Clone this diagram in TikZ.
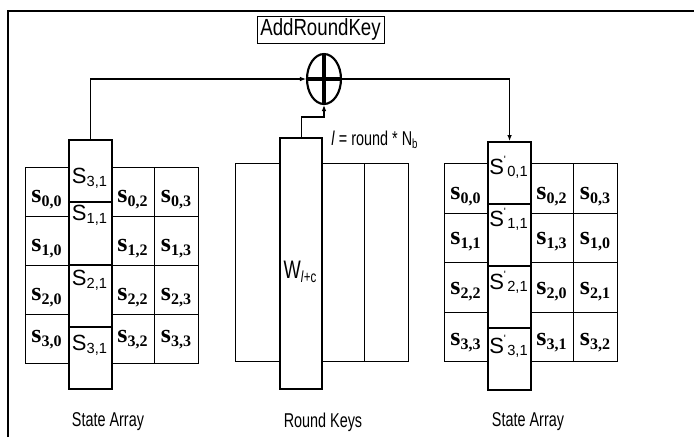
\documentclass[tikz,border=0pt]{standalone}
\usepackage{fontspec}
\usetikzlibrary{arrows.meta,shapes.geometric}
\newfontfamily\sansN[FakeStretch=0.72]{Liberation Sans}
\newfontfamily\sansM[FakeStretch=0.8]{Liberation Sans}
\newfontfamily\sansR{Liberation Sans}
\newfontfamily\serifB{Liberation Serif}
\newcommand\fsz[1]{\fontsize{#1}{#1}\selectfont}
\newcommand\sij[2]{{\serifB\bfseries\fsz{19.5}s\raisebox{-3pt}{\fsz{12}#1,#2}}}
\newcommand\Sij[1]{{\sansR\fsz{16.5}S\raisebox{-2pt}{\fsz{11}#1}}}
\newcommand\Spij[1]{{\sansR\fsz{16.5}S\rlap{\raisebox{8.5pt}{\fsz{8}'}}\hspace{2.5pt}\raisebox{-1.5pt}{\fsz{11}#1}}}
\begin{document}
\begin{tikzpicture}[x=0.75pt,y=-0.75pt,
  gridcell/.style={draw, line width=0.8pt, inner sep=0pt, anchor=north west},
  hicell/.style={draw, fill=white, line width=1.6pt, inner sep=0pt, anchor=north west},
  lbl/.style={inner sep=0pt},
  biglbl/.style={inner sep=0pt, font=\sansN\fsz{15}},
  arr/.style={line width=0.8pt, -{Latex[length=4.5pt,width=3.5pt]}}]
\useasboundingbox (0,0) rectangle (694,437);
\draw[line width=2pt] (8,437) -- (8,11) -- (694,11);

% ---- left state array
\foreach \c/\x/\w in {0/25/43,2/111/43,3/154/44}{
  \foreach \r in {0,...,3}{
    \node[gridcell, minimum width=\w*0.75pt, minimum height=49*0.75pt] (L\r\c) at (\x,{167+49*\r}) {};
  }
}
\foreach \r in {0,...,3}{
  \node[hicell, minimum width=43*0.75pt, minimum height=62.25*0.75pt] (LH\r) at (68,{139+62.25*\r}) {};
}
\foreach \r/\y in {0/200,1/249,2/298,3/340}{
  \node[lbl] (LT\r0) at (46.5,\y) {\sij{\r}{0}};
  \node[lbl] (LT\r2) at (132.5,\y) {\sij{\r}{2}};
  \node[lbl] (LT\r3) at (176,\y) {\sij{\r}{3}};
}
\foreach \r/\y/\s in {0/178/{3,1},1/215/{1,1},2/280/{2,1},3/345/{3,1}}{
  \node[lbl] (LS\r) at (89.5,\y) {\Sij{\s}};
}

% ---- round keys
\foreach \c/\x/\w in {0/235/44,1/279/42,2/321/43,3/364/44}{
  \node[gridcell, minimum width=\w*0.75pt, minimum height=198*0.75pt] (K\c) at (\x,163) {};
}
\node[hicell, minimum width=42*0.75pt, minimum height=251*0.75pt] (W) at (279,137) {};
\node[lbl] (WT) at (300,272) {{\sansN\fsz{19}W}\raisebox{-3.5pt}{\sansN\fsz{12}\textit{l}+c}};
\node[lbl, font=\sansN\fsz{15}] (lr) at (374.5,140) {\textit{l} = round * N\raisebox{-2.5pt}{\fsz{10}b}};

% ---- right state array
\foreach \c/\x/\w in {0/444/43,2/530/43,3/573/44}{
  \foreach \r in {0,...,3}{
    \node[gridcell, minimum width=\w*0.75pt, minimum height=49.5*0.75pt] (R\r\c) at (\x,{163+49.5*\r}) {};
  }
}
\foreach \r in {0,...,3}{
  \node[hicell, minimum width=43*0.75pt, minimum height=62*0.75pt] (RH\r) at (487,{141+62*\r}) {};
}
\foreach \r/\y/\a/\b/\d in {0/197/{0}{0}/{0}{2}/{0}{3},1/242/{1}{1}/{1}{3}/{1}{0},2/292/{2}{2}/{2}{0}/{2}{1},3/343/{3}{3}/{3}{1}/{3}{2}}{
  \node[lbl] (RT\r0) at (465.5,\y) {\expandafter\sij\a};
  \node[lbl] (RT\r2) at (551.5,\y) {\expandafter\sij\b};
  \node[lbl] (RT\r3) at (595,\y) {\expandafter\sij\d};
}
\foreach \r/\y/\s in {0/167/{0,1},1/219/{1,1},2/282/{2,1},3/346/{3,1}}{
  \node[lbl] (RS\r) at (508.5,\y) {\Spij{\s}};
}

% ---- AddRoundKey and xor
\node[draw, line width=0.6pt, inner sep=0pt, minimum width=127*0.75pt, minimum height=27*0.75pt, font=\sansM\fsz{17.5}] (ark) at (320.5,29.5) {AddRoundKey};
\node[ellipse, draw, line width=1.6pt, inner sep=0pt, minimum width=34*0.75pt, minimum height=50*0.75pt] (xor) at (324,79) {};
\draw[line width=2.4pt, shorten <=1.2pt, shorten >=1.2pt] (xor.west) -- (xor.east);
\draw[line width=2.4pt, shorten <=1.2pt, shorten >=1.2pt] (xor.north) -- (xor.south);

% ---- connectors
\draw[arr] (LH0.north) |- (xor.west);
\draw[arr] (xor.east) -| (RH0.north);
\draw[arr] (W.north) -- ++(0,-20) -| (xor.south);

% ---- captions
\node[biglbl] (sa1) at (108,422) {State Array};
\node[biglbl] (rk) at (323,422) {Round Keys};
\node[biglbl] (sa2) at (528,422) {State Array};
\end{tikzpicture}
\end{document}
